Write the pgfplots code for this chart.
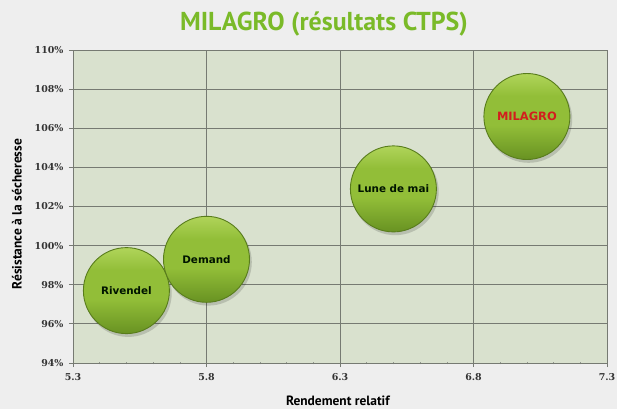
\documentclass[border=0pt]{standalone}
\usepackage{pgfplots}
\usepackage{pgfplotstable}
\pgfplotsset{compat=1.18}
\usepackage{fontspec}
\setmainfont{PT Sans}
\newfontfamily\tickfont{DejaVu Serif}
\newfontfamily\bubfont{DejaVu Sans}
\definecolor{outerbg}{RGB}{238,238,238}
\definecolor{plotbg}{RGB}{217,225,206}
\definecolor{gridc}{RGB}{118,122,114}
\definecolor{titlegreen}{RGB}{122,186,40}
\definecolor{ballTop}{RGB}{176,212,90}
\definecolor{ballMid}{RGB}{146,190,56}
\definecolor{ballBot}{RGB}{104,146,34}
\definecolor{ballEdge}{RGB}{88,124,28}
\definecolor{milred}{RGB}{210,30,30}
\pgfdeclareverticalshading{gballshade}{100bp}{%
  color(0bp)=(ballBot); color(25bp)=(ballBot); color(45bp)=(ballMid);
  color(62bp)=(ballMid); color(75bp)=(ballTop); color(100bp)=(ballTop)}
\pgfdeclareplotmark{gball}{%
  \begin{pgfscope}
    \pgfsetfillcolor{black}\pgfsetfillopacity{0.15}%
    \pgfpathcircle{\pgfpoint{1.8bp}{-2.8bp}}{43.5bp}%
    \pgfusepath{fill}%
  \end{pgfscope}
  \begin{pgfscope}
    \pgfpathcircle{\pgfpointorigin}{43bp}%
    \pgfshadepath{gballshade}{0}%
    \pgfsetstrokecolor{ballEdge}\pgfsetlinewidth{0.9bp}%
    \pgfusepath{stroke}%
  \end{pgfscope}
}
\pgfplotstableread{
x y label
5.50 97.7 Rivendel
5.80 99.3 Demand
6.50 102.9 {Lune de mai}
}\blacktab
\pgfplotstableread{
x y label
7.00 106.6 MILAGRO
}\redtab
\begin{document}
\begin{tikzpicture}
\useasboundingbox (0,0) rectangle (617bp,409bp);
\fill[outerbg] (0,0) rectangle (617bp,409bp);
\begin{axis}[
  at={(73bp,46bp)}, anchor=south west,
  scale only axis, width=534bp, height=313bp,
  xmin=5.3, xmax=7.3, ymin=94, ymax=110,
  xtick={5.3,5.8,6.3,6.8,7.3},
  ytick={94,96,...,110},
  minor x tick num=4,
  xticklabel={\pgfmathprintnumber[fixed,precision=1,fixed zerofill]{\tick}},
  yticklabel={\pgfmathprintnumber{\tick}\%},
  /pgf/number format/assume math mode=true,
  ticklabel style={font=\tickfont\bfseries\fontsize{9.5}{11}\selectfont, text=black!80},
  xticklabel style={yshift=-3bp},
  yticklabel style={xshift=-2bp},
  grid=major,
  major grid style={gridc, line width=0.9bp},
  axis background/.style={fill=plotbg},
  axis line style={gridc, line width=0.9bp},
  tick style={gridc, line width=0.8bp},
  xtick pos=bottom, ytick pos=left,
  major tick length=4bp, minor tick length=2.5bp,
  xtick align=outside, ytick align=outside,
  minor x tick style={gridc!80, line width=0.6bp},
  every minor tick/.append style={yshift=1.2bp},
  title={MILAGRO (résultats CTPS)},
  title style={font=\bfseries\fontsize{26}{31}\selectfont, text=titlegreen, at={(axis description cs:0.47,1)}, anchor=base, yshift=14bp},
  xlabel={Rendement relatif},
  xlabel style={font=\bfseries\fontsize{13.5}{16}\selectfont, at={(axis description cs:0.496,-0.12)}, anchor=center},
  ylabel={Résistance à la sécheresse},
  ylabel style={font=\bfseries\fontsize{13.5}{16}\selectfont, at={(axis description cs:-0.105,0.476)}, anchor=center},
  clip=false,
]
\addplot[only marks, mark=gball, nodes near coords, point meta=explicit symbolic,
  every node near coord/.style={anchor=center, inner sep=0pt, font=\bubfont\bfseries\fontsize{10.4}{12}\selectfont, text=black!80!green!40!black}]
  table[x=x, y=y, meta=label]{\blacktab};
\addplot[only marks, mark=gball, nodes near coords, point meta=explicit symbolic,
  every node near coord/.style={anchor=center, inner sep=0pt, font=\bubfont\bfseries\fontsize{11.5}{13}\selectfont, text=milred}]
  table[x=x, y=y, meta=label]{\redtab};
\end{axis}
\end{tikzpicture}
\end{document}
